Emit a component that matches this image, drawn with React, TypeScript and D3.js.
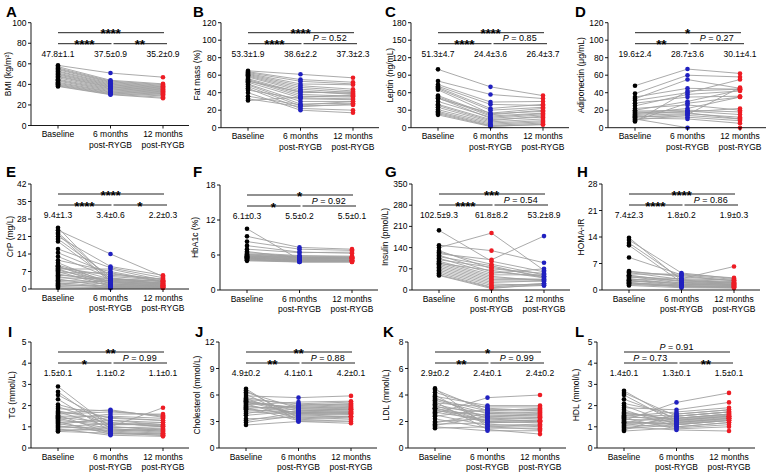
import React from 'react';
import * as d3 from 'd3';

// groups on the x axis
const groups = ['Baseline', '6 months', '12 months'];
const groupSub = ['', 'post-RYGB', 'post-RYGB'];

// per-subject values: [baseline, 6 months, 12 months]
const bmi = [
  [58.5, 57.2, 56.0, 55.1, 54.3, 53.0, 52.2, 51.0, 50.1, 49.3, 48.2, 47.5, 46.4, 45.0, 44.1, 43.2, 42.0, 41.1, 40.2, 39.4, 38.6, 38.0],
  [51.0, 44.0, 43.2, 42.5, 41.8, 41.0, 40.2, 39.5, 38.8, 38.0, 37.4, 36.8, 36.0, 35.4, 34.6, 33.8, 33.0, 32.4, 31.6, 31.0, 30.4, 30.0],
  [47.0, 40.5, 39.8, 39.0, 38.2, 37.6, 37.0, 36.4, 35.8, 35.2, 34.6, 34.0, 33.4, 32.8, 32.2, 31.6, 31.0, 30.4, 29.6, 28.8, 27.5, 26.5],
];
const fatMass = [
  [65, 64, 63, 62, 61, 60, 59, 58, 56, 55, 54, 53, 52, 50, 49, 47, 45, 43, 40, 36, 33, 31],
  [61, 55, 53, 50, 48, 46, 44, 42, 40, 38, 36, 41, 34, 30, 27, 25, 22, 33, 20, 26, 24, 35],
  [57, 52, 50, 49, 44, 42, 40, 38, 41, 36, 35, 39, 33, 30, 28, 26, 20, 32, 17, 30, 27, 37],
];
const leptin = [
  [100, 80, 74, 71, 69, 67, 65, 55, 53, 51, 40, 38, 35, 31, 28, 26, 24, 22, 50, 45],
  [70, 57, 44, 40, 33, 30, 24, 22, 20, 16, 14, 12, 10, 8, 6, 4, 3, 2, 25, 18],
  [55, 50, 45, 38, 40, 35, 28, 30, 25, 22, 18, 20, 15, 12, 10, 8, 5, 6, 33, 24],
];
const adiponectin = [
  [48, 39, 35, 33, 31, 28, 25, 22, 20, 19, 18, 17, 16, 15, 14, 13, 12, 11, 10, 9, 8, 7],
  [67, 60, 45, 55, 40, 35, 38, 26, 30, 20, 18, 17, 22, 19, 16, 12, 15, 10, 0, 14, 28, 42],
  [62, 58, 44, 45, 55, 36, 42, 20, 43, 18, 22, 10, 35, 15, 12, 8, 46, 5, 0, 10, 35, 44],
];
const crp = [
  [24.5, 23.5, 22.5, 22, 21, 20, 19, 16, 14.5, 13, 11.5, 10.5, 9, 8.5, 8, 9.5, 9, 8, 7.5, 7, 6.5, 6, 5, 4.5, 4, 3, 2.5, 2, 1, 0.5, 1.5, 3.5, 2, 5.5],
  [3, 14, 4, 2.5, 9, 5, 3.5, 8.5, 6, 4.5, 7, 2, 3, 5.5, 1.5, 4, 2, 8, 3, 1, 6.5, 2.5, 1.5, 4, 0.8, 2, 1, 3.5, 0.5, 0.3, 1.2, 2.8, 0.6, 4.2],
  [2, 5, 3, 1.5, 5.5, 3.5, 2.5, 4.5, 4, 2, 3, 1, 2.5, 4, 1.5, 3, 1.2, 3.5, 2, 0.8, 2.8, 1.8, 1, 2.2, 0.6, 1.5, 0.7, 2.4, 0.4, 0.5, 1, 1.6, 0.5, 3.2],
];
const hba1c = [
  [10.5, 9.2, 8.3, 7.6, 7.0, 6.6, 6.4, 6.2, 6.1, 6.0, 5.9, 5.8, 5.7, 5.6, 5.5, 5.5, 5.4, 5.3, 5.3, 5.2, 5.1, 5.0, 5.6, 5.8],
  [5.2, 7.3, 7.0, 6.5, 6.4, 5.5, 5.9, 5.8, 5.7, 5.6, 5.5, 5.4, 5.3, 5.2, 5.1, 5.0, 5.2, 5.0, 4.9, 4.8, 4.9, 4.8, 5.4, 5.6],
  [5.5, 7.0, 6.8, 6.3, 6.5, 5.6, 5.8, 5.7, 5.6, 5.5, 5.4, 5.4, 5.3, 5.2, 5.1, 5.0, 5.1, 5.0, 4.9, 4.8, 4.9, 4.8, 5.3, 5.5],
];
const insulin = [
  [197, 148, 140, 130, 125, 120, 115, 110, 105, 100, 95, 90, 88, 85, 80, 75, 70, 65, 60, 55, 50, 48],
  [95, 130, 188, 70, 85, 100, 60, 80, 55, 75, 50, 45, 65, 40, 35, 30, 25, 20, 15, 10, 8, 5],
  [60, 90, 65, 55, 50, 178, 45, 40, 70, 45, 50, 30, 40, 35, 35, 30, 30, 15, 20, 22, 15, 20],
];
const homaIr = [
  [13.8, 13.2, 12.4, 11.8, 8.6, 5.0, 4.6, 4.2, 3.9, 3.6, 3.3, 3.0, 2.8, 2.5, 2.3, 2.0, 1.8, 1.6, 1.4, 1.2, 4.8, 3.8, 2.6, 1.9],
  [2.5, 4.5, 3.0, 2.0, 4.0, 3.5, 2.8, 4.2, 2.2, 1.8, 3.0, 1.5, 2.6, 1.2, 2.0, 1.0, 1.4, 0.8, 1.1, 0.6, 3.8, 2.4, 1.6, 0.9],
  [2.0, 3.0, 6.2, 1.5, 2.8, 2.5, 2.2, 3.2, 1.8, 1.4, 2.6, 1.2, 2.0, 1.0, 1.6, 0.8, 1.2, 0.6, 0.9, 0.5, 2.4, 1.8, 1.3, 0.7],
];
const tg = [
  [2.9, 2.65, 2.5, 2.3, 2.05, 1.95, 1.85, 1.75, 1.7, 1.6, 1.55, 1.5, 1.45, 1.4, 1.35, 1.3, 1.25, 1.2, 1.15, 1.1, 1.05, 1.0, 0.95, 0.9, 0.85, 0.8, 0.78, 1.65],
  [1.0, 0.9, 1.2, 0.8, 1.4, 1.1, 1.75, 1.3, 1.0, 1.7, 0.7, 1.5, 1.2, 0.9, 1.6, 1.1, 0.65, 1.3, 0.8, 1.45, 0.75, 1.15, 1.0, 0.6, 0.85, 0.95, 0.7, 1.8],
  [1.9, 0.8, 1.0, 0.7, 1.3, 1.1, 1.5, 1.2, 0.9, 1.55, 0.6, 1.4, 1.0, 0.8, 1.6, 1.2, 0.7, 1.1, 0.9, 1.3, 0.65, 1.05, 0.85, 0.55, 0.75, 1.0, 0.6, 1.45],
];
const cholesterol = [
  [6.7, 6.5, 6.3, 6.1, 5.9, 5.7, 5.6, 5.5, 5.4, 5.3, 5.2, 5.1, 5.0, 4.9, 4.8, 4.7, 4.6, 4.5, 4.3, 4.1, 3.9, 3.7, 3.3, 3.1, 2.9, 2.6, 5.2, 4.4],
  [3.0, 3.4, 4.5, 3.2, 5.7, 4.8, 3.6, 5.0, 4.2, 4.4, 3.9, 4.6, 3.3, 5.2, 4.0, 4.3, 3.1, 4.7, 4.1, 3.8, 4.9, 4.2, 3.5, 4.0, 3.7, 3.0, 4.5, 3.9],
  [3.2, 3.6, 4.6, 3.4, 5.9, 5.0, 3.8, 5.2, 4.4, 4.5, 4.0, 4.8, 3.5, 5.3, 4.1, 4.4, 3.0, 4.9, 4.2, 3.9, 5.0, 4.3, 3.6, 4.1, 3.9, 2.8, 4.7, 4.0],
];
const ldl = [
  [4.5, 4.4, 4.2, 4.0, 3.9, 3.8, 3.6, 3.5, 3.4, 3.3, 3.2, 3.1, 3.0, 2.9, 2.8, 2.7, 2.6, 2.5, 2.4, 2.2, 2.0, 1.9, 1.8, 1.7, 1.6, 1.5, 3.7, 3.0],
  [1.6, 2.8, 3.0, 1.8, 3.2, 2.2, 2.6, 1.4, 3.1, 2.4, 2.0, 2.7, 2.3, 1.9, 2.5, 2.1, 3.8, 1.7, 2.9, 1.5, 2.2, 2.6, 1.9, 2.4, 1.3, 1.6, 2.8, 2.0],
  [1.4, 3.0, 2.8, 1.6, 3.2, 2.0, 2.5, 1.05, 3.1, 2.3, 1.9, 2.6, 2.2, 2.0, 2.4, 2.1, 4.0, 1.8, 2.9, 1.5, 2.3, 2.7, 2.0, 2.5, 1.3, 1.7, 2.8, 2.1],
];
const hdl = [
  [2.7, 2.6, 2.5, 2.3, 2.1, 2.0, 1.9, 1.8, 1.7, 1.6, 1.55, 1.5, 1.45, 1.4, 1.35, 1.3, 1.25, 1.2, 1.15, 1.1, 1.05, 1.0, 0.95, 0.9, 0.85, 0.8, 1.65, 1.2],
  [1.3, 1.5, 1.2, 1.4, 1.6, 1.1, 1.8, 1.0, 1.3, 1.5, 1.2, 1.7, 1.4, 0.9, 1.3, 2.15, 1.1, 1.5, 1.25, 1.0, 1.4, 0.85, 1.2, 1.1, 1.6, 0.95, 1.35, 1.15],
  [1.5, 1.7, 1.4, 1.6, 1.8, 1.3, 2.15, 1.2, 1.5, 1.7, 1.4, 1.9, 1.6, 1.0, 1.5, 2.6, 1.3, 1.7, 1.45, 1.2, 1.6, 0.8, 1.4, 1.3, 1.8, 1.1, 1.55, 1.35],
];

const letters = ['A', 'B', 'C', 'D', 'E', 'F', 'G', 'H', 'I', 'J', 'K', 'L'];
const yLabels = [
  'BMI (kg/m²)', 'Fat mass (%)', 'Leptin (ng/mL)', 'Adiponectin (μg/mL)',
  'CrP (mg/L)', 'HbA1c (%)', 'Insulin (pmol/L)', 'HOMA-IR',
  'TG (mmol/L)', 'Cholesterol (mmol/L)', 'LDL (mmol/L)', 'HDL (mmol/L)',
];
const yMax = [100, 120, 180, 120, 42, 18, 350, 28, 5, 12, 8, 5];
const yStep = [20, 20, 30, 20, 7, 6, 70, 7, 1, 3, 2, 1];
const stats = [
  ['47.8±1.1', '37.5±0.9', '35.2±0.9'],
  ['53.3±1.9', '38.6±2.2', '37.3±2.3'],
  ['51.3±4.7', '24.4±3.6', '26.4±3.7'],
  ['19.6±2.4', '28.7±3.6', '30.1±4.1'],
  ['9.4±1.3', '3.4±0.6', '2.2±0.3'],
  ['6.1±0.3', '5.5±0.2', '5.5±0.1'],
  ['102.5±9.3', '61.8±8.2', '53.2±8.9'],
  ['7.4±2.3', '1.8±0.2', '1.9±0.3'],
  ['1.5±0.1', '1.1±0.2', '1.1±0.1'],
  ['4.9±0.2', '4.1±0.1', '4.2±0.1'],
  ['2.9±0.2', '2.4±0.1', '2.4±0.2'],
  ['1.4±0.1', '1.3±0.1', '1.5±0.1'],
];
// [baseline vs 12m, baseline vs 6m, 6m vs 12m]
const sig = [
  ['****', '****', '**'],
  ['****', '****', 'P = 0.52'],
  ['****', '****', 'P = 0.85'],
  ['*', '**', 'P = 0.27'],
  ['****', '****', '*'],
  ['*', '*', 'P = 0.92'],
  ['***', '****', 'P = 0.54'],
  ['****', '****', 'P = 0.86'],
  ['**', '*', 'P = 0.99'],
  ['**', '**', 'P = 0.88'],
  ['*', '**', 'P = 0.99'],
  ['P = 0.91', 'P = 0.73', '**'],
];
const panelValues = [bmi, fatMass, leptin, adiponectin, crp, hba1c, insulin, homaIr, tg, cholesterol, ldl, hdl];

const BLACK = '#000000';
const BLUE = '#2020c0';
const RED = '#ee1c24';
const colorsDefault = [BLACK, BLUE, RED];
const colorsSwapped = [BLACK, RED, BLUE];

// axis x, plot top/bottom, y-label x, letter x/y
const layout = [
  { ax: 31, top: 22.7, bottom: 125.5, lx: 11, px: 6, py: 17 },
  { ax: 221, top: 22.7, bottom: 127.7, lx: 200, px: 193, py: 17 },
  { ax: 411, top: 22.7, bottom: 127.7, lx: 393, px: 385, py: 17 },
  { ax: 608, top: 22.7, bottom: 127.7, lx: 584, px: 575, py: 17 },
  { ax: 31, top: 184, bottom: 289, lx: 13, px: 6, py: 177 },
  { ax: 220, top: 185, bottom: 290, lx: 198, px: 193, py: 177 },
  { ax: 412, top: 184, bottom: 290, lx: 388, px: 385, py: 177 },
  { ax: 602, top: 184, bottom: 290, lx: 584, px: 577, py: 177 },
  { ax: 31, top: 342, bottom: 448, lx: 15, px: 8, py: 337 },
  { ax: 219, top: 342, bottom: 448, lx: 200, px: 195, py: 337 },
  { ax: 408, top: 342, bottom: 448, lx: 389, px: 383, py: 337 },
  { ax: 597, top: 342, bottom: 448, lx: 579, px: 575, py: 337 },
];

const FONT = 'Liberation Sans, Arial, sans-serif';

const SigText = ({ x, y, text }: { x: number; y: number; text: string }) => {
  if (text.startsWith('P')) {
    return (
      <text x={x} y={y - 2.5} textAnchor="middle" fontSize={9}>
        <tspan fontStyle="italic">P</tspan>
        {text.slice(1)}
      </text>
    );
  }
  return (
    <text x={x} y={y + 5.5} textAnchor="middle" fontSize={13.5} fontWeight="bold" letterSpacing={-0.3}>
      {text}
    </text>
  );
};

const Panel = ({ i }: { i: number }) => {
  const L = layout[i];
  const values = panelValues[i];
  const colors = i === 6 ? colorsSwapped : colorsDefault;
  const y = d3.scaleLinear().domain([0, yMax[i]]).range([L.bottom, L.top]);
  const x = d3.scalePoint<string>().domain(groups).range([L.ax + 27, L.ax + 132]);
  const ticks = d3.range(0, yMax[i] + yStep[i] / 2, yStep[i]);
  const xs = groups.map((g) => x(g) as number);
  const line = d3
    .line<number>()
    .x((_, k) => xs[k])
    .y((v) => y(v));
  const n = values[0].length;
  const subjects = d3.range(n).map((s) => values.map((g) => g[s]));
  const b1 = L.top + 10;
  const b2 = L.top + 21;
  const mid = (L.top + L.bottom) / 2;
  return (
    <g fontFamily={FONT}>
      <text x={L.px} y={L.py} fontSize={15} fontWeight="bold">
        {letters[i]}
      </text>
      {/* connecting lines */}
      {subjects.map((s, k) => (
        <path key={k} d={line(s) || ''} fill="none" stroke="#a0a0a0" strokeWidth={0.9} />
      ))}
      {values.map((g, gi) =>
        g.map((v, k) => <circle key={`${gi}-${k}`} cx={xs[gi]} cy={y(v)} r={2.3} fill={colors[gi]} />)
      )}
      {/* y axis */}
      <line x1={L.ax} x2={L.ax} y1={L.top} y2={L.bottom} stroke="#000" strokeWidth={0.9} />
      {ticks.map((t) => (
        <g key={t}>
          <line x1={L.ax - 3} x2={L.ax} y1={y(t)} y2={y(t)} stroke="#000" strokeWidth={0.9} />
          <text x={L.ax - 4.5} y={y(t) + 3} textAnchor="end" fontSize={8.5}>
            {t}
          </text>
        </g>
      ))}
      {/* x axis */}
      <line x1={L.ax} x2={L.ax + 158} y1={L.bottom} y2={L.bottom} stroke="#000" strokeWidth={0.9} />
      {groups.map((g, gi) => (
        <g key={g}>
          <line x1={xs[gi]} x2={xs[gi]} y1={L.bottom} y2={L.bottom + 3} stroke="#000" strokeWidth={0.9} />
          <text x={xs[gi]} y={L.bottom + 11.5} textAnchor="middle" fontSize={8.5}>
            {g}
          </text>
          {groupSub[gi] && (
            <text x={xs[gi]} y={L.bottom + 22} textAnchor="middle" fontSize={8.5}>
              {groupSub[gi]}
            </text>
          )}
        </g>
      ))}
      <text
        transform={`translate(${L.lx},${mid}) rotate(-90)`}
        textAnchor="middle"
        fontSize={8.5}
      >
        {yLabels[i]}
      </text>
      {/* significance bars */}
      <line x1={xs[0]} x2={xs[2] + 1} y1={b1} y2={b1} stroke="#222" strokeWidth={1} />
      <line x1={xs[0]} x2={xs[1] + 1} y1={b2} y2={b2} stroke="#222" strokeWidth={1} />
      <line x1={xs[1] + 3} x2={xs[2] + 4} y1={b2} y2={b2} stroke="#222" strokeWidth={1} />
      <SigText x={(xs[0] + xs[2]) / 2} y={b1} text={sig[i][0]} />
      <SigText x={(xs[0] + xs[1]) / 2} y={b2} text={sig[i][1]} />
      <SigText x={(xs[1] + xs[2]) / 2 + 3} y={b2} text={sig[i][2]} />
      {stats[i].map((s, gi) => (
        <text key={gi} x={xs[gi]} y={L.top + 34} textAnchor="middle" fontSize={8.5}>
          {s}
        </text>
      ))}
    </g>
  );
};

const App = () => (
  <svg width={767} height={472} style={{ position: 'absolute', left: 0, top: 0, background: '#fff' }}>
    {letters.map((_, i) => (
      <Panel key={i} i={i} />
    ))}
  </svg>
);

export default App;
